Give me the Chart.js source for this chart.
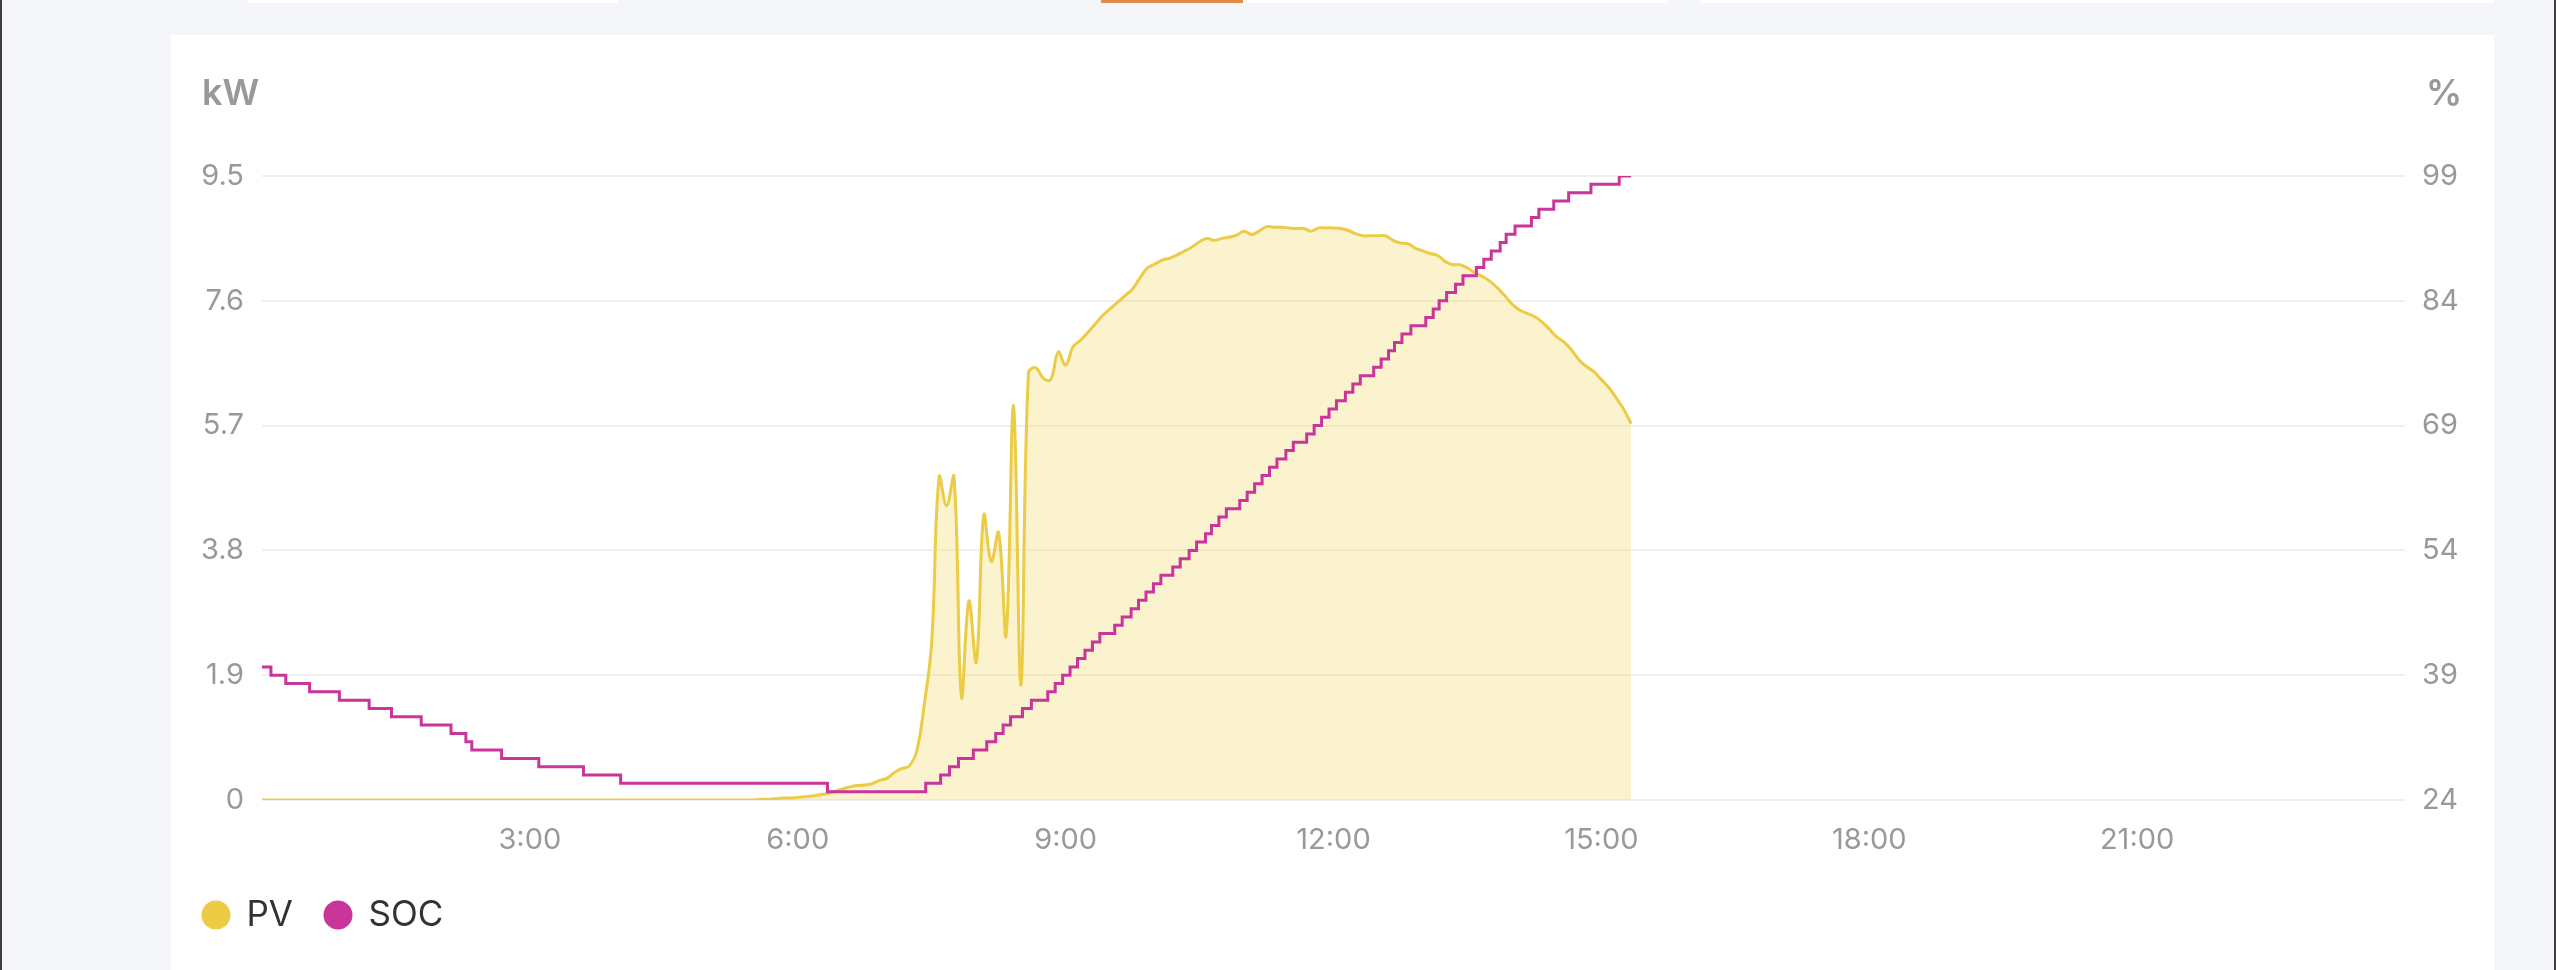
<!DOCTYPE html>
<html>
<head>
<meta charset="utf-8">
<script src="https://cdn.jsdelivr.net/npm/chart.js@4.4.1/dist/chart.umd.min.js"></script>
<style>
  html, body { margin: 0; padding: 0; }
  body { width: 2556px; height: 970px; background: #f5f6fa; position: relative; overflow: hidden; font-family: Inter, "Liberation Sans", Arial, sans-serif; }
  .edge { position: absolute; top: 0; width: 2px; height: 970px; background: #3c3c3c; }
  .tab { position: absolute; top: 0; height: 3px; background: #fff; }
  .card { position: absolute; left: 171px; top: 35px; width: 2323px; height: 935px; background: #fff; }
  #socChart { position: absolute; left: 171px; top: 35px; }
  .unit { position: absolute; top: 74px; font-size: 36px; line-height: 36px; font-weight: 600; color: #999; }
</style>
</head>
<body>
<div class="edge" style="left:0"></div>
<div class="edge" style="left:2554px"></div>
<div class="tab" style="left:248px;width:370px"></div>
<div class="tab" style="left:1101px;width:142px;background:#e08b4b"></div>
<div class="tab" style="left:1243px;width:424px"></div>
<div class="tab" style="left:1700px;width:794px"></div>
<div class="card"></div>
<canvas id="socChart" width="2323" height="935"></canvas>
<div class="unit" style="left:202px">kW</div>
<div class="unit" style="left:2426px">%</div>
<script>
// PV power (kW), one value every 5 minutes from 0:00 to 15:20
const pvValues = [
    0, 0, 0, 0, 0, 0, 0, 0, 0, 0, 0, 0,
    0, 0, 0, 0, 0, 0, 0, 0, 0, 0, 0, 0,
    0, 0, 0, 0, 0, 0, 0, 0, 0, 0, 0, 0,
    0, 0, 0, 0, 0, 0, 0, 0, 0, 0, 0, 0,
    0, 0, 0, 0, 0, 0, 0, 0, 0, 0, 0, 0,
    0, 0, 0, 0, 0, 0, 0, 0.01, 0.01, 0.02, 0.03, 0.03,
    0.04, 0.05, 0.06, 0.08, 0.1, 0.13, 0.17, 0.2, 0.22, 0.23, 0.25, 0.3,
    0.33, 0.42, 0.48, 0.52, 0.75, 1.45, 2.4, 4.92, 4.48, 4.92, 1.57, 3.03,
    2.1, 4.34, 3.63, 4.07, 2.51, 6.0, 1.75, 6.5, 6.58, 6.42, 6.4, 6.82,
    6.62, 6.9, 7.0, 7.12, 7.25, 7.38, 7.48, 7.58, 7.68, 7.78, 7.95, 8.1,
    8.16, 8.22, 8.25, 8.3, 8.36, 8.42, 8.5, 8.55, 8.52, 8.55, 8.57, 8.6,
    8.66, 8.61, 8.66, 8.73, 8.72, 8.72, 8.71, 8.7, 8.7, 8.66, 8.71, 8.71,
    8.71, 8.7, 8.67, 8.62, 8.59, 8.59, 8.59, 8.59, 8.52, 8.48, 8.47, 8.4,
    8.36, 8.32, 8.29, 8.2, 8.15, 8.15, 8.1, 8.03, 7.97, 7.9, 7.8, 7.68,
    7.55, 7.46, 7.41, 7.36, 7.28, 7.17, 7.05, 6.97, 6.85, 6.7, 6.6, 6.52,
    6.4, 6.28, 6.12, 5.95, 5.73
];
const pvStepMinutes = 5;

// battery SOC (%): minute of the day where each level starts
const socMinutes = [
    0, 6, 16, 32, 52, 72, 87, 107, 127, 137, 141, 161, 186, 216, 241, 380,
    446, 456, 462, 468, 478, 487, 493, 498, 503, 511, 517, 528, 533, 538, 543, 548,
    553, 558, 563, 573, 578, 584, 589, 594, 599, 604, 612, 617, 623, 628, 634, 638,
    643, 648, 657, 662, 667, 672, 677, 682, 688, 693, 702, 707, 712, 717, 722, 728,
    733, 738, 747, 752, 757, 761, 766, 772, 782, 787, 791, 796, 802, 807, 816, 821,
    826, 832, 836, 842, 853, 858, 868, 878, 893, 912, 920
];
const socValues = [
    40, 39, 38, 37, 36, 35, 34, 33, 32, 31, 30, 29, 28, 27, 26, 25,
    26, 27, 28, 29, 30, 31, 32, 33, 34, 35, 36, 37, 38, 39, 40, 41,
    42, 43, 44, 45, 46, 47, 48, 49, 50, 51, 52, 53, 54, 55, 56, 57,
    58, 59, 60, 61, 62, 63, 64, 65, 66, 67, 68, 69, 70, 71, 72, 73,
    74, 75, 76, 77, 78, 79, 80, 81, 82, 83, 84, 85, 86, 87, 88, 89,
    90, 91, 92, 93, 94, 95, 96, 97, 98, 99, 99
];

const kwTicks = { min: 0, max: 9.5, step: 1.9 };
const socTicks = { min: 24, max: 99, step: 15 };
const hourTickStep = 180;

const pvColor = '#eccb45';
const socColor = '#c9359b';

const pvData = pvValues.map((v, i) => ({ x: i * pvStepMinutes, y: v }));
const socData = socMinutes.map((m, i) => ({ x: m, y: socValues[i] }));

const fontFamily = 'Inter, "Liberation Sans", Arial, sans-serif';
const tickFont = { family: fontFamily, size: 29 };

new Chart(document.getElementById('socChart').getContext('2d'), {
    type: 'line',
    data: {
        datasets: [{
            label: 'PV',
            data: pvData,
            yAxisID: 'y',
            borderColor: pvColor,
            backgroundColor: 'rgba(240, 205, 60, 0.25)',
            pointBackgroundColor: pvColor,
            pointBorderColor: pvColor,
            fill: 'origin',
            tension: 0.4,
            borderWidth: 3,
            pointRadius: 0,
            order: 2
        }, {
            label: 'SOC',
            data: socData,
            yAxisID: 'y1',
            borderColor: socColor,
            backgroundColor: socColor,
            pointBackgroundColor: socColor,
            pointBorderColor: socColor,
            fill: false,
            stepped: true,
            borderWidth: 3,
            pointRadius: 0,
            order: 1
        }]
    },
    options: {
        responsive: false,
        animation: false,
        devicePixelRatio: 1,
        layout: { padding: { left: 0, right: 0, top: 141, bottom: 27.5 } },
        scales: {
            x: {
                type: 'linear',
                min: 0,
                max: 1440,
                grid: { display: false },
                border: { display: false },
                afterFit: (s) => { s.height = 65.5; },
                ticks: {
                    stepSize: hourTickStep,
                    autoSkip: false,
                    maxRotation: 0,
                    padding: 15,
                    color: '#999',
                    font: tickFont,
                    callback: (v) => (v > 0 && v < 1440) ? `${v / 60}:00` : ''
                }
            },
            y: {
                position: 'left',
                min: kwTicks.min,
                max: kwTicks.max,
                afterFit: (s) => { s.width = 91; },
                grid: { color: '#f0f0f0', lineWidth: 2, drawTicks: false },
                border: { display: false },
                ticks: { stepSize: kwTicks.step, padding: 18, color: '#999', font: tickFont }
            },
            y1: {
                position: 'right',
                min: socTicks.min,
                max: socTicks.max,
                afterFit: (s) => { s.width = 89; },
                grid: { drawOnChartArea: false, drawTicks: false },
                border: { display: false },
                ticks: { stepSize: socTicks.step, padding: 17, color: '#999', font: tickFont }
            }
        },
        plugins: {
            legend: {
                position: 'bottom',
                align: 'start',
                labels: {
                    usePointStyle: true,
                    pointStyle: 'circle',
                    boxWidth: 26,
                    boxHeight: 18.4,
                    padding: 32,
                    color: '#333',
                    font: { family: fontFamily, size: 35 },
                    sort: (a, b) => a.datasetIndex - b.datasetIndex
                }
            },
            tooltip: { enabled: false }
        }
    }
});
</script>
</body>
</html>
